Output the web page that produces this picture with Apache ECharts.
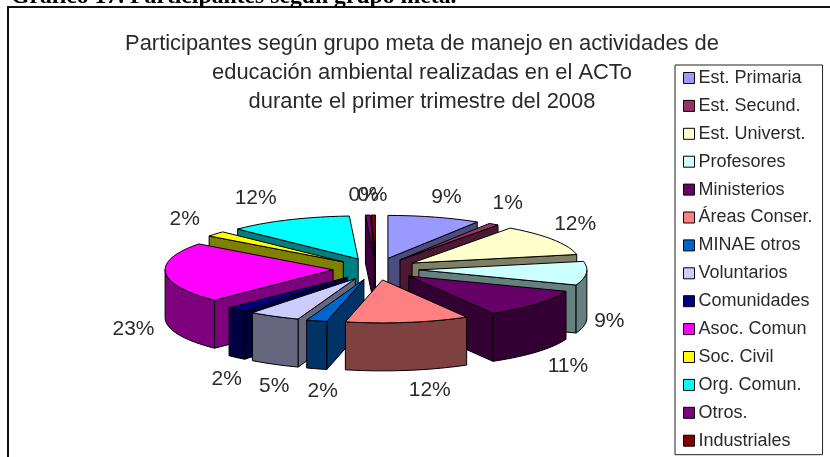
<!DOCTYPE html>
<html>
<head>
<meta charset="utf-8">
<style>html,body{margin:0;padding:0;background:#fff}#c{width:830px;height:457px}</style>
<script src="https://cdn.jsdelivr.net/npm/echarts@6/dist/echarts.min.js"></script>
</head>
<body>
<div id="c"></div>
<script>
const heading = 'Gráfico 17. Participantes según grupo meta.';
const chartTitle = 'Participantes según grupo meta de manejo en actividades de\neducación ambiental realizadas en el ACTo\ndurante el primer trimestre del 2008';
const categories = ['Est. Primaria','Est. Secund.','Est. Universt.','Profesores','Ministerios','Áreas Conser.','MINAE otros','Voluntarios','Comunidades','Asoc. Comun','Soc. Civil','Org. Comun.','Otros.','Industriales'];
const values = [9,1,12,9,11,12,2,5,2,23,2,12,0.45,0.4];
const colours = ['#9999FF','#993366','#FFFFCC','#CCFFFF','#660066','#FF8080','#0066CC','#CCCCFF','#000080','#FF00FF','#FFFF00','#00FFFF','#800080','#800000'];
// label placement relative to each slice's outer edge, in pixels
const labelNudge = [[12,-20],[14,-21],[22,-15],[23,48],[31,62],[22,68],[6,70],[0,70],[-10,70],[-32,56],[-31,-15],[-33,-22],[-4,-20],[-1,-20]];

const EXPLODE = 0.256, WALL = 1.116;
const total = values.reduce((a, b) => a + b, 0);
let running = 0;
const spans = values.map(v => { const s = running; running += v; return [s, running]; });
const toAngle = v => v / total * Math.PI * 2;
const half = hex => '#' + [1,3,5].map(i => Math.floor(parseInt(hex.substr(i,2),16)/2).toString(16).padStart(2,'0')).join('');
const depth = values.map((v,i) => -Math.cos(toAngle((spans[i][0]+spans[i][1])/2)));
const order = depth.map((d,i) => i).sort((a,b) => depth[a]-depth[b]);

function renderSlice(idx) {
  return function (params, api) {
    const a1 = toAngle(api.value(0)), a2 = toAngle(api.value(1)), mid = (a1+a2)/2;
    const ox = EXPLODE*Math.sin(mid), oy = -EXPLODE*Math.cos(mid);
    const rim = (a, w) => api.coord([ox+Math.sin(a), oy-Math.cos(a)+(w||0)]);
    const apex = (w) => api.coord([ox, oy+(w||0)]);
    const fill = colours[idx], dark = half(fill);
    const poly = (pts, col) => ({type:'polygon', shape:{points:pts}, style:{fill:col, stroke:'#000', lineWidth:1}});
    const children = [];
    if (Math.sin(a1) < 0) children.push(poly([apex(),rim(a1),rim(a1,WALL),apex(WALL)], dark));
    if (Math.sin(a2) > 0) children.push(poly([apex(),rim(a2),rim(a2,WALL),apex(WALL)], dark));
    const wa = Math.max(a1, Math.PI/2), wb = Math.min(a2, Math.PI*1.5);
    if (wb > wa) {
      const top = [], bot = [], n = Math.max(2, Math.ceil((wb-wa)/0.06));
      for (let k=0;k<=n;k++){ const a = wa+(wb-wa)*k/n; top.push(rim(a)); bot.unshift(rim(a,WALL)); }
      children.push(poly(top.concat(bot), dark));
    }
    const face = [apex()], n2 = Math.max(2, Math.ceil((a2-a1)/0.06));
    for (let k=0;k<=n2;k++) face.push(rim(a1+(a2-a1)*k/n2));
    children.push(poly(face, fill));
    const edge = rim(mid);
    children.push({type:'text', z2:50, style:{
      text: Math.round(api.value(2)/total*100)+'%',
      x: edge[0]+labelNudge[idx][0], y: edge[1]+labelNudge[idx][1],
      align:'center', verticalAlign:'middle',
      fill:'#2a2a2a', font:'21px "Liberation Sans"'
    }});
    return {type:'group', children};
  };
}

const chart = echarts.init(document.getElementById('c'), null, {renderer:'canvas'});
chart.setOption({
  animation:false,
  backgroundColor:'#fff',
  graphic:[{type:'rect', z:0, shape:{x:8,y:7,width:900,height:600}, style:{fill:'#fff',stroke:'#111',lineWidth:2}}],
  title:[
    {text:heading, left:11, top:-15, padding:0, textStyle:{fontFamily:'Liberation Serif',fontWeight:'bold',fontSize:23.7,color:'#000'}},
    {text:chartTitle, left:422, top:29, padding:0, textAlign:'center', textStyle:{fontFamily:'Liberation Sans',fontWeight:'normal',fontSize:21.9,lineHeight:29,color:'#2a2a2a'}}
  ],
  legend:{
    orient:'vertical', left:675, top:65, height:400, selectedMode:false,
    data:categories, icon:'rect', itemWidth:11, itemHeight:11, itemGap:9.9,
    padding:[4,10,5,8], borderColor:'#222', borderWidth:1,
    itemStyle:{borderColor:'#000',borderWidth:1},
    textStyle:{fontFamily:'Liberation Sans',fontSize:18,lineHeight:15,color:'#2a2a2a',padding:[0,0,0,-1]}
  },
  tooltip:{show:false},
  grid:{left:208,width:336,top:226,height:86},
  xAxis:{type:'value',min:-1,max:1,show:false},
  yAxis:{type:'value',min:-1,max:1,inverse:true,show:false},
  series:categories.map((name,i)=>({
    type:'custom', name, z:2+order.indexOf(i), silent:true, clip:false,
    coordinateSystem:'cartesian2d',
    itemStyle:{color:colours[i]},
    renderItem:renderSlice(i),
    encode:{x:0,y:1},
    data:[{name, value:[spans[i][0],spans[i][1],values[i]]}]
  }))
});
</script>
</body>
</html>
